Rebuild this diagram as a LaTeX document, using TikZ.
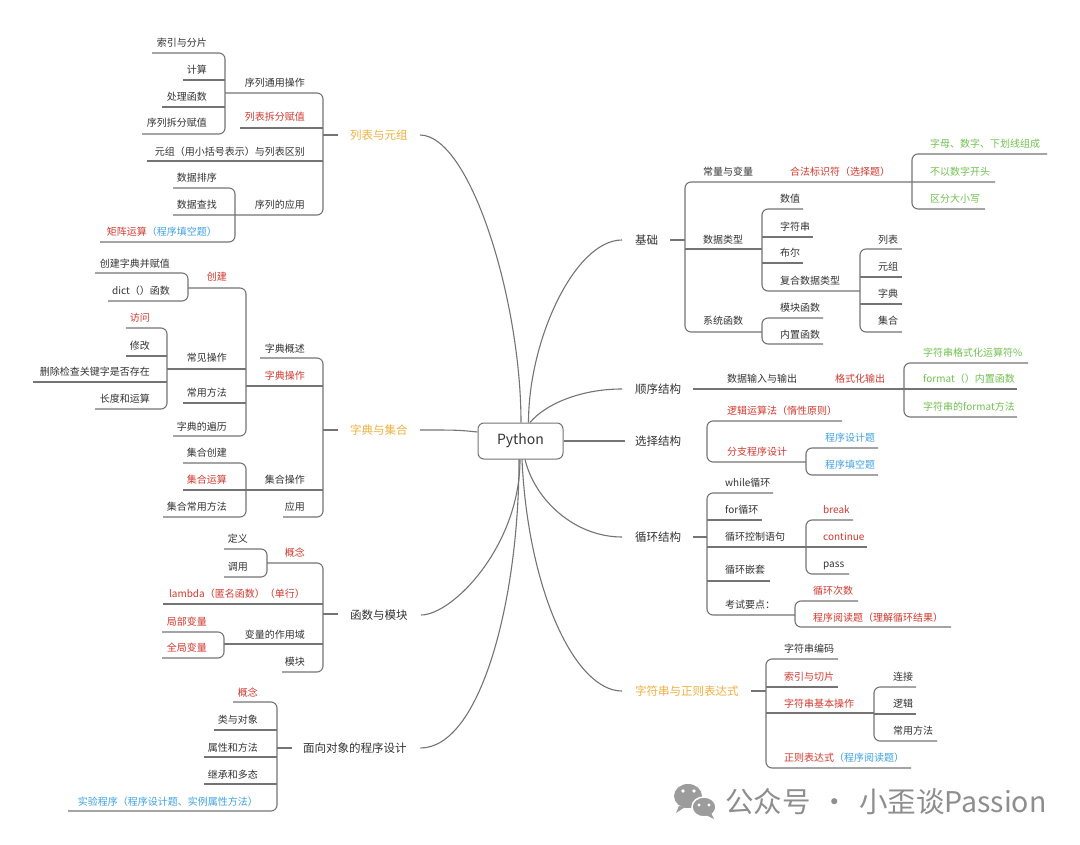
\documentclass[tikz,border=0pt]{standalone}
\usepackage{fontspec}
\setmainfont{Noto Sans CJK SC}
\definecolor{tc}{HTML}{333333}
\definecolor{rc}{HTML}{D03A30}
\definecolor{oc}{HTML}{F0B040}
\definecolor{bc}{HTML}{3FA2E2}
\definecolor{gc}{HTML}{72C050}
\definecolor{lc}{HTML}{747474}
\definecolor{wm}{HTML}{8E8E8E}
\definecolor{wmi}{HTML}{9C9C9C}
\tikzset{
  t/.style={inner sep=0pt, font=\fontsize{10}{12}\selectfont, text=tc, text height=8.8pt, text depth=1.2pt},
  tl/.style={t, anchor=west},
  tr/.style={t, anchor=east},
  mainlbl/.style={inner sep=0pt, font=\fontsize{11.5}{13}\selectfont, text=tc, text height=10.1pt, text depth=1.4pt, anchor=west},
  ln/.style={draw=lc, line width=1.1pt, rounded corners=6pt},
  cv/.style={draw=lc, line width=1.1pt},
}
\begin{document}
\begin{tikzpicture}[x=1pt,y=-1pt]
\useasboundingbox[fill=white] (0,0) rectangle (1080,845);

% ---------- centre ----------
\node[draw=lc, line width=1pt, rounded corners=6pt, minimum width=85pt, minimum height=36pt, inner sep=0pt, font=\fontsize{14}{16}\selectfont, text=tc] (py) at (520.5,441) {Python};

% ---------- main labels ----------
\node[mainlbl, text=oc] (lb) at (350,135) {列表与元组};
\node[mainlbl, text=oc] (zd) at (350,430) {字典与集合};
\node[mainlbl] (hs) at (350,615) {函数与模块};
\node[mainlbl] (mx) at (303,748) {面向对象的程序设计};
\node[mainlbl] (jc) at (635,240) {基础};
\node[mainlbl] (sx) at (635,389) {顺序结构};
\node[mainlbl] (xz) at (635,441) {选择结构};
\node[mainlbl] (xh) at (635,537) {循环结构};
\node[mainlbl, text=oc] (zf) at (635,691) {字符串与正则表达式};

% ---------- curves from centre ----------
\draw[cv] ([xshift=0.5pt]py.north) .. controls +(0,-123) and +(50,0) .. ([xshift=12pt]lb.east);
\draw[cv] ([yshift=9pt]py.west) .. controls +(-20,-2) .. ([xshift=12pt]zd.east);
\draw[cv] ([xshift=-0.5pt]py.south) .. controls +(0,86) and +(32,0) .. ([xshift=13pt]hs.east);
\draw[cv] ([xshift=-1.5pt]py.south) .. controls +(0,141) and +(60,0) .. ([xshift=13.5pt]mx.east);
\draw[cv] ([xshift=8pt]py.north) .. controls +(0,-83) and +(-47,0) .. ([xshift=-13pt]jc.west);
\draw[cv] ([xshift=9.5pt]py.north) .. controls +(15,-18) and +(-42,0) .. ([xshift=-13pt]sx.west);
\draw[cv] (py.east) -- ([xshift=-10pt]xz.west);
\draw[cv] ([xshift=4.5pt]py.south) .. controls +(10,41) and +(-47,0) .. ([xshift=-13pt]xh.west);
\draw[cv] ([xshift=1.5pt]py.south) .. controls +(6,131) and +(-47,0) .. ([xshift=-13pt]zf.west);

% ---------- 列表与元组 ----------
\node[tr] (a1) at (207,43) {索引与分片};
\node[tr] (a2) at (207,70) {计算};
\node[tr] (a3) at (207,97) {处理函数};
\node[tr] (a4) at (207,123) {序列拆分赋值};
\node[tr] (a5) at (305,83) {序列通用操作};
\node[tr, text=rc] (a6) at (305,117) {列表拆分赋值};
\node[tr] (a7) at (305,152) {元组（用小括号表示）与列表区别};
\node[tr] (a8) at (217,178) {数据排序};
\node[tr] (a9) at (217,205) {数据查找};
\node[tr] (a10) at (217,232) {\textcolor{rc}{矩阵运算}\textcolor{bc}{（程序填空题）}};
\node[tr] (a11) at (305,205) {序列的应用};
\draw[ln] (152,53) -- (225,53) -- (225,134) -- (142,134);
\draw[ln] (183,80) -- (225,80);
\draw[ln] (162,107) -- (225,107);
\draw[ln] (225,93) -- (323,93) -- (323,215) -- (173,215);
\draw[ln] (173,188) -- (235,188) -- (235,242) -- (100,242);
\draw[ln] (240,128) -- (323,128);
\draw[ln] (147,161) -- (323,161);
\draw[ln] (323,135) -- (338,135);

% ---------- 字典与集合 ----------
\node[tr] (b1) at (305,349) {字典概述};
\node[tr, text=rc] (b2) at (305,376) {字典操作};
\node[tr] (b3) at (305,480) {集合操作};
\node[tr] (b4) at (305,507) {应用};
\node[tr, text=rc] (b5) at (227,277) {创建};
\node[tr] (b6) at (170,264) {创建字典并赋值};
\node[tr] (b7) at (170,291) {dict（）函数};
\node[tr, text=rc] (b8) at (150,318) {访问};
\node[tr] (b9) at (150,346) {修改};
\node[tr] (b10) at (150,372) {删除检查关键字是否存在};
\node[tr] (b11) at (150,399) {长度和运算};
\node[tr] (b12) at (227,358) {常见操作};
\node[tr] (b13) at (227,393) {常用方法};
\node[tr] (b14) at (227,427) {字典的遍历};
\node[tr] (b15) at (227,453) {集合创建};
\node[tr, text=rc] (b16) at (227,480) {集合运算};
\node[tr] (b17) at (227,507) {集合常用方法};
\draw[ln] (260,358) -- (323,358) -- (323,517) -- (283,517);
\draw[ln] (323,430) -- (338,430);
\draw[ln] (188,288) -- (246,288) -- (246,436) -- (173,436);
\draw[ln] (246,386) -- (323,386);
\draw[ln] (167,369) -- (246,369);
\draw[ln] (183,403) -- (246,403);
\draw[ln] (95,273) -- (188,273) -- (188,301) -- (108,301);
\draw[ln] (126,328) -- (167,328) -- (167,409) -- (95,409);
\draw[ln] (126,356) -- (167,356);
\draw[ln] (33,382) -- (167,382);
\draw[ln] (183,463) -- (246,463) -- (246,517) -- (163,517);
\draw[ln] (183,490) -- (323,490);

% ---------- 函数与模块 ----------
\node[tr, text=rc] (c1) at (305,553) {概念};
\node[tr] (c2) at (248,539) {定义};
\node[tr] (c3) at (248,567) {调用};
\node[tr, text=rc] (c4) at (305,594) {lambda（匿名函数）（单行）};
\node[tr, text=rc] (c5) at (207,622) {局部变量};
\node[tr, text=rc] (c6) at (207,648) {全局变量};
\node[tr] (c7) at (305,635) {变量的作用域};
\node[tr] (c8) at (305,662) {模块};
\draw[ln] (267,563) -- (323,563) -- (323,672) -- (282,672);
\draw[ln] (323,614) -- (338,614);
\draw[ln] (224,549) -- (267,549) -- (267,577) -- (224,577);
\draw[ln] (163,604) -- (323,604);
\draw[ln] (162,632) -- (224,632) -- (224,658) -- (162,658);
\draw[ln] (224,644) -- (323,644);

% ---------- 面向对象的程序设计 ----------
\node[tr, text=rc] (d1) at (258,693) {概念};
\node[tr] (d2) at (258,720) {类与对象};
\node[tr] (d3) at (258,748) {属性和方法};
\node[tr] (d4) at (258,775) {继承和多态};
\node[tr, text=bc] (d5) at (258,802) {实验程序（程序设计题、实例属性方法）};
\draw[ln] (233,702) -- (277,702) -- (277,811) -- (68,811);
\draw[ln] (214,730) -- (277,730);
\draw[ln] (204,757) -- (277,757);
\draw[ln] (204,784) -- (277,784);
\draw[ln] (277,748) -- (292,748);

% ---------- 基础 ----------
\node[tl] (e1) at (703,172) {常量与变量};
\node[tl, text=rc] (e2) at (790,172) {合法标识符（选择题）};
\node[tl, text=gc] (e3) at (930,144) {字母、数字、下划线组成};
\node[tl, text=gc] (e4) at (930,172) {不以数字开头};
\node[tl, text=gc] (e5) at (930,199) {区分大小写};
\node[tl] (e6) at (703,240) {数据类型};
\node[tl] (e7) at (780,199) {数值};
\node[tl] (e8) at (780,227) {字符串};
\node[tl] (e9) at (780,253) {布尔};
\node[tl] (e10) at (780,281) {复合数据类型};
\node[tl] (e11) at (878,240) {列表};
\node[tl] (e12) at (878,267) {元组};
\node[tl] (e13) at (878,294) {字典};
\node[tl] (e14) at (878,321) {集合};
\node[tl] (e15) at (703,321) {系统函数};
\node[tl] (e16) at (780,308) {模块函数};
\node[tl] (e17) at (780,335) {内置函数};
\draw[ln] (995,182) -- (685,182) -- (685,332) -- (762,332);
\draw[ln] (670,240) -- (685,240);
\draw[ln] (1047,154) -- (912,154) -- (912,209) -- (985,209);
\draw[ln] (685,249) -- (762,249);
\draw[ln] (803,209) -- (762,209) -- (762,291) -- (860,291);
\draw[ln] (762,237) -- (813,237);
\draw[ln] (762,263) -- (803,263);
\draw[ln] (902,249) -- (860,249) -- (860,332) -- (902,332);
\draw[ln] (860,277) -- (902,277);
\draw[ln] (860,304) -- (902,304);
\draw[ln] (823,318) -- (762,318) -- (762,344) -- (823,344);

% ---------- 顺序结构 ----------
\node[tl] (f1) at (727,379) {数据输入与输出};
\node[tl, text=rc] (f2) at (835,379) {格式化输出};
\node[tl, text=gc] (f3) at (923,353) {字符串格式化运算符\%};
\node[tl, text=gc] (f4) at (923,379) {format（）内置函数};
\node[tl, text=gc] (f5) at (923,407) {字符串的format方法};
\draw[ln] (693,389) -- (1017,389);
\draw[ln] (1028,363) -- (904,363) -- (904,417) -- (1017,417);

% ---------- 选择结构 ----------
\node[tl, text=rc] (g1) at (727,411) {逻辑运算法（惰性原则）};
\node[tl, text=rc] (g2) at (727,452) {分支程序设计};
\node[tl, text=bc] (g3) at (825,438) {程序设计题};
\node[tl, text=bc] (g4) at (825,465) {程序填空题};
\draw[ln] (842,421) -- (707,421) -- (707,462) -- (806,462);
\draw[ln] (878,448) -- (806,448) -- (806,475) -- (878,475);

% ---------- 循环结构 ----------
\node[tl] (h1) at (725,483) {while循环};
\node[tl] (h2) at (725,510) {for循环};
\node[tl] (h3) at (725,537) {循环控制语句};
\node[tl] (h4) at (725,570) {循环嵌套};
\node[tl] (h5) at (725,605) {考试要点：};
\node[tl, text=rc] (h6) at (823,510) {break};
\node[tl, text=rc] (h7) at (823,537) {continue};
\node[tl] (h8) at (823,564) {pass};
\node[tl, text=rc] (h9) at (813,591) {循环次数};
\node[tl, text=rc] (h10) at (813,618) {程序阅读题（理解循环结果）};
\draw[ln] (693,537) -- (707,537);
\draw[ln] (773,493) -- (707,493) -- (707,615) -- (795,615);
\draw[ln] (707,520) -- (762,520);
\draw[ln] (707,547) -- (867,547);
\draw[ln] (707,581) -- (770,581);
\draw[ln] (853,520) -- (806,520) -- (806,574) -- (849,574);
\draw[ln] (858,601) -- (795,601) -- (795,627) -- (951,627);

% ---------- 字符串与正则表达式 ----------
\node[tl] (i1) at (784,649) {字符串编码};
\node[tl, text=rc] (i2) at (784,677) {索引与切片};
\node[tl, text=rc] (i3) at (784,704) {字符串基本操作};
\node[tl] (i4) at (784,758) {\textcolor{rc}{正则表达式}\textcolor{bc}{（程序阅读题）}};
\node[tl] (i5) at (893,677) {连接};
\node[tl] (i6) at (893,704) {逻辑};
\node[tl] (i7) at (893,731) {常用方法};
\draw[ln] (751,691) -- (766,691);
\draw[ln] (838,659) -- (766,659) -- (766,768) -- (911,768);
\draw[ln] (766,687) -- (838,687);
\draw[ln] (766,713) -- (874,713);
\draw[ln] (916,687) -- (874,687) -- (874,741) -- (937,741);
\draw[ln] (874,714) -- (916,714);

% ---------- watermark ----------
\fill[wmi] (688,796) ellipse [x radius=14pt, y radius=12pt];
\fill[wmi] (679,806) -- (676,813) -- (685,807) -- cycle;
\filldraw[fill=wmi, draw=white, line width=1.5pt] (704,807) ellipse [x radius=12pt, y radius=10pt];
\fill[wmi] (711,813) -- (714,819) -- (706,815) -- cycle;
\fill[white] (683,791) circle [radius=1.9pt] (694,791) circle [radius=1.9pt];
\fill[white] (699,805) circle [radius=1.6pt] (709,805) circle [radius=1.6pt];
\node[anchor=west, inner sep=0pt, font=\fontsize{28.5}{31}\selectfont, text=wm, text height=25pt, text depth=3.5pt] (wmt) at (725,802) {公众号\hspace{0.35em}·\hspace{0.35em}小歪谈Passion};
\end{tikzpicture}
\end{document}
